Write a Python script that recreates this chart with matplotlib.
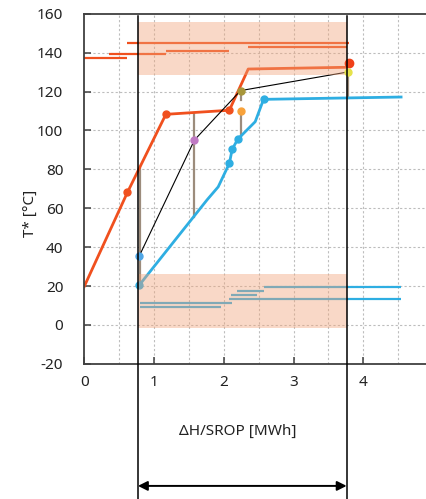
import matplotlib
matplotlib.use("Agg")
import matplotlib.pyplot as plt

plt.rcParams['font.family'] = ['Noto Sans', 'DejaVu Sans']

# Hot composite curve (T* in degC vs cumulative duty in MWh)
hot_x = [0.0, 0.62, 1.17, 2.08, 2.35, 3.76, 3.79]
hot_T = [19.7, 68.2, 108.3, 110.4, 131.6, 132.5, 134.5]
hot_marker_idx = [1, 2, 3]

# Cold composite curve
cold_x = [0.79, 1.76, 1.92, 2.08, 2.12, 2.20, 2.45, 2.57, 4.54]
cold_T = [20.5, 64.3, 71.0, 83.1, 90.3, 95.5, 104.5, 116.0, 117.2]
cold_marker_idx = [0, 3, 4, 5, 7]

# Intermediate (black) profile with coloured nodes
mid_x = [0.79, 1.58, 2.24, 3.78]
mid_T = [35.5, 95.1, 120.5, 130.1]
mid_colors = ["#4fa6e6", "#c07ac4", "#a8963a", "#e6e24a"]

# Extra node on the hot side
node_x = [2.24]
node_T = [110.2]

# Vertical connectors between curves
conn_x = [0.80, 1.58, 2.24, 2.24, 3.78]
conn_lo = [20.5, 55.6, 97.0, 115.7, 116.8]
conn_hi = [81.0, 109.0, 110.2, 120.5, 130.1]

# Individual hot streams (start, end, temperature)
hs_x0 = [0.0, 0.35, 0.62, 1.17, 2.35]
hs_x1 = [0.62, 1.17, 3.79, 2.08, 3.76]
hs_T = [137.1, 139.2, 145.0, 140.9, 142.9]

# Individual cold streams
cs_x0 = [0.80, 0.80, 2.07, 2.11, 2.19, 2.57]
cs_x1 = [2.12, 1.96, 4.54, 2.47, 2.57, 4.54]
cs_T = [11.5, 9.4, 13.3, 15.4, 17.5, 19.4]

# Interval limits and temperature bands
x_lo, x_hi = 0.77, 3.76
band_hot = (128.5, 156.0)
band_cold = (-1.5, 26.0)

xticks = [0, 1, 2, 3, 4]
yticks = [-20, 0, 20, 40, 60, 80, 100, 120, 140, 160]

HOT = "#f0501e"
COLD = "#2eaee2"
BAND = "#f2a47a"
CONN = "#9c8c7c"
FS = 11

fig = plt.figure(figsize=(4.26, 4.99), dpi=100)
ax = fig.add_axes([84.2 / 426, 135.2 / 499, (426.2 - 84.2) / 426, (363.8 - 13.8) / 499])
ax.set_xlim(0, 4.9)
ax.set_ylim(-20, 160)

# grid
for gx in [0.5 * i for i in range(1, 10)]:
    ax.axvline(gx, color="#bdbdbd", lw=0.8, ls=(0, (2, 2)), zorder=0)
for gy in yticks[1:-1]:
    ax.axhline(gy, color="#bdbdbd", lw=0.8, ls=(0, (2, 2)), zorder=0)

# streams
for a, b, t in zip(hs_x0, hs_x1, hs_T):
    ax.plot([a, b], [t, t], color=HOT, lw=1.6, solid_capstyle="butt", zorder=2)
for a, b, t in zip(cs_x0, cs_x1, cs_T):
    ax.plot([a, b], [t, t], color=COLD, lw=1.6, solid_capstyle="butt", zorder=2)

# connectors
for x, lo, hi in zip(conn_x, conn_lo, conn_hi):
    ax.plot([x, x], [lo, hi], color=CONN, lw=1.6, zorder=2)

# composite curves
ax.plot(hot_x, hot_T, color=HOT, lw=2.0, zorder=2)
ax.plot([hot_x[i] for i in hot_marker_idx], [hot_T[i] for i in hot_marker_idx],
        'o', color=HOT, ms=5, zorder=2)
ax.plot(hot_x[-1], hot_T[-1], 'o', color="#f04018", ms=6, zorder=4)
ax.plot(cold_x, cold_T, color=COLD, lw=2.0, zorder=2)
ax.plot([cold_x[i] for i in cold_marker_idx], [cold_T[i] for i in cold_marker_idx],
        'o', color=COLD, ms=5, zorder=2)

# intermediate profile
ax.plot(mid_x, mid_T, color="black", lw=0.8, zorder=3)
for x, t, c in zip(mid_x, mid_T, mid_colors):
    ax.plot(x, t, 'o', color=c, ms=5, zorder=4)
ax.plot(node_x, node_T, 'o', color="#f8a23a", ms=5, zorder=4)

# temperature bands
ax.fill_between([x_lo, x_hi], band_hot[0], band_hot[1], color=BAND, alpha=0.42, lw=0, zorder=3)
ax.fill_between([x_lo, x_hi], band_cold[0], band_cold[1], color=BAND, alpha=0.42, lw=0, zorder=3)

# interval limits extending below the axes
y_bottom = -89.5
for xv in (x_lo, x_hi):
    ax.plot([xv, xv], [159.0, y_bottom], color="black", lw=1.1, clip_on=False, zorder=5)
ax.annotate("", xy=(x_lo, -82.8), xytext=(x_hi, -82.8), xycoords="data",
            arrowprops=dict(arrowstyle="<|-|>", color="black", lw=1.4,
                            mutation_scale=14, shrinkA=0, shrinkB=0),
            annotation_clip=False)

# axes styling
for s in ("left", "top", "bottom"):
    ax.spines[s].set_color("#404040")
    ax.spines[s].set_linewidth(1.3)
ax.spines["right"].set_visible(False)
ax.set_xticks(xticks)
ax.set_yticks(yticks)
ax.set_yticklabels([str(v) for v in yticks])
ax.tick_params(axis="both", direction="in", length=5, width=1.1, color="#404040",
               labelsize=FS, labelcolor="#222222")
ax.tick_params(axis="y", pad=15)
ax.tick_params(axis="x", pad=8)
ax.tick_params(axis="y", right=False)

fig.text(30 / 426, 1 - 213 / 499, "T* [°C]", rotation=90, ha="center", va="center",
         fontsize=FS, color="#222222")
fig.text(237.5 / 426, 1 - 431.7 / 499, "ΔH/SROP [MWh]", ha="center", va="center",
         fontsize=FS, color="#222222")

fig.savefig("out.png", dpi=100)
